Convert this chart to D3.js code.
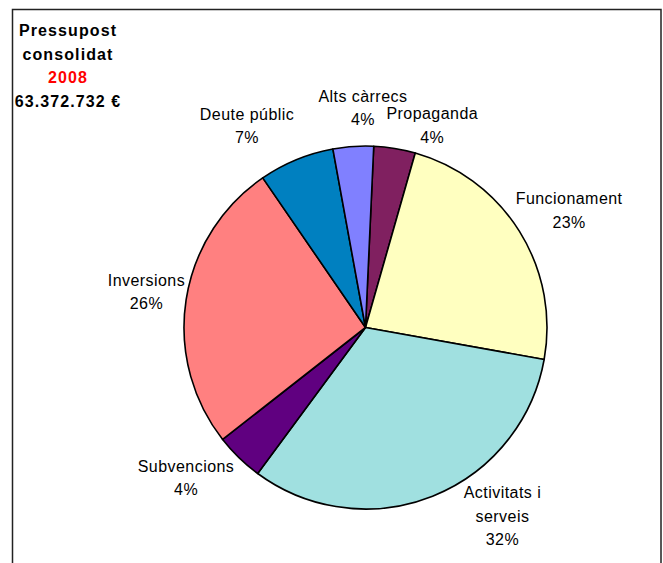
<!DOCTYPE html>
<html>
<head>
<meta charset="utf-8">
<script src="https://cdn.jsdelivr.net/npm/d3@7"></script>
<style>
  body { margin: 0; background: #fff; }
  svg text { font-family: "Liberation Sans", Arial, sans-serif; }
</style>
</head>
<body>
<div id="chart"></div>
<script>
// budget shares, clockwise from the top
const categories = ["Propaganda", "Funcionament", "Activitats i serveis", "Subvencions", "Inversions", "Deute públic", "Alts càrrecs"];
const shares = [3.7, 23.4, 32.3, 4.3, 26.0, 6.7, 3.6];
const pctLabels = ["4%", "23%", "32%", "4%", "26%", "7%", "4%"];
const labelLines = [["Propaganda"], ["Funcionament"], ["Activitats i", "serveis"], ["Subvencions"], ["Inversions"], ["Deute públic"], ["Alts càrrecs"]];
const colors = ["#802060", "#FFFFC0", "#A0E0E0", "#600080", "#FF8080", "#0080C0", "#8080FF"];
const titleLines = ["Pressupost", "consolidat", "2008", "63.372.732 €"];

const W = 663, H = 563;
const cx = 365.5, cy = 327.5, r = 181.5;
const startDeg = 2.6;
// label placement: angle shift from slice middle (deg) and distance from centre
const labelNudge = [9, 2, -14.3, 5.9, 0.6, -8, 3.2];
const labelDist = [213, 235, 233, 234, 222, 234, 220];

const svg = d3.select("#chart").append("svg")
    .attr("width", W)
    .attr("height", H);

// frame (bottom edge runs off the picture)
svg.append("path")
    .attr("d", `M12.5,${H + 5} L12.5,9.5 L661,9.5 L661,${H + 5}`)
    .attr("fill", "none")
    .attr("stroke", "#222")
    .attr("stroke-width", 1.5);

const pie = d3.pie()
    .sort(null)
    .value(d => d)
    .startAngle(startDeg * Math.PI / 180)
    .endAngle((startDeg + 360) * Math.PI / 180);

const arc = d3.arc().innerRadius(0).outerRadius(r);
const arcs = pie(shares);

const g = svg.append("g").attr("transform", `translate(${cx},${cy})`);

g.selectAll("path.slice")
    .data(arcs)
    .enter()
    .append("path")
    .attr("class", "slice")
    .attr("d", arc)
    .attr("fill", (d, i) => colors[i])
    .attr("stroke", "#000")
    .attr("stroke-width", 1.6)
    .attr("stroke-linejoin", "round");

// slice labels: name line(s) + percentage
const lineH = 23.5;
arcs.forEach((d, i) => {
    const a = (d.startAngle + d.endAngle) / 2 + labelNudge[i] * Math.PI / 180;
    const lx = Math.sin(a) * labelDist[i];
    const ly = -Math.cos(a) * labelDist[i];
    const lines = labelLines[i].concat([pctLabels[i]]);
    const first = ly - (lines.length - 1) * lineH / 2 + 5.8;
    const t = g.append("text")
        .attr("text-anchor", "middle")
        .style("font-size", "16px")
        .style("letter-spacing", "0.45px")
        .attr("fill", "#000");
    lines.forEach((s, j) => {
        t.append("tspan")
            .attr("x", lx)
            .attr("y", first + j * lineH)
            .text(s);
    });
});

// title block, top left
const title = svg.append("text")
    .attr("text-anchor", "middle")
    .style("font-size", "16px")
    .style("font-weight", "bold")
    .style("letter-spacing", "1.1px");
titleLines.forEach((s, j) => {
    title.append("tspan")
        .attr("x", 68)
        .attr("y", 35.7 + j * 23.8)
        .attr("fill", j === 2 ? "#FF0000" : "#000")
        .text(s);
});
</script>
</body>
</html>
